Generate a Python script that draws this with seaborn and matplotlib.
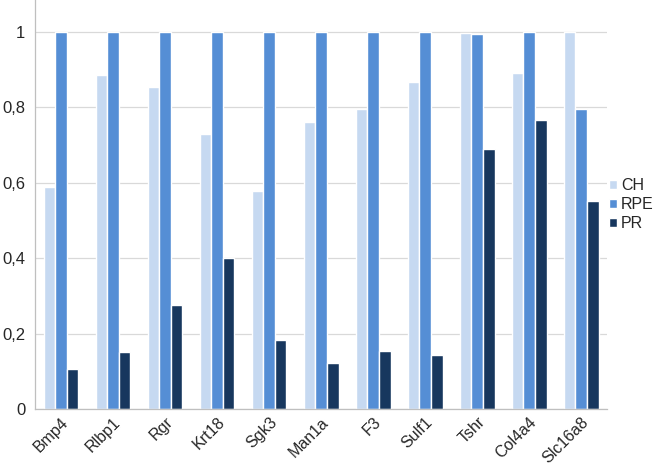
import seaborn as sns
import matplotlib.pyplot as plt
import pandas as pd
import numpy as np

genes = ["Bmp4", "Rlbp1", "Rgr", "Krt18", "Sgk3", "Man1a", "F3", "Sulf1", "Tshr", "Col4a4", "Slc16a8"]
ch = [0.59, 0.885, 0.855, 0.73, 0.578, 0.762, 0.796, 0.867, 0.998, 0.892, 1.0]
rpe = [1.0, 1.0, 1.0, 1.0, 1.0, 1.0, 1.0, 1.0, 0.995, 1.0, 0.796]
pr = [0.105, 0.15, 0.275, 0.40, 0.183, 0.123, 0.155, 0.143, 0.689, 0.767, 0.553]

df = pd.DataFrame({"gene": genes * 3,
                   "value": ch + rpe + pr,
                   "group": ["CH"] * 11 + ["RPE"] * 11 + ["PR"] * 11})

sns.set_style("white")
plt.rcParams['font.family'] = ['Liberation Sans', 'DejaVu Sans']

fig = plt.figure(figsize=(6.6, 4.68), dpi=100)
ax = fig.add_axes([0.053, 0.126, 0.867, 0.874])

sns.barplot(data=df, x="gene", y="value", hue="group",
            palette=["#c6d9f1", "#558ed5", "#17375e"],
            width=0.67, gap=0, saturation=1, ax=ax)

ax.set_ylim(0, 1.085)
ax.set_xlim(-0.5, 10.5)
ax.set_yticks([0, 0.2, 0.4, 0.6, 0.8, 1.0])
ax.set_yticklabels(["0", "0,2", "0,4", "0,6", "0,8", "1"], fontsize=12)
ax.yaxis.grid(True, color="#d9d9d9", linewidth=0.9)
ax.set_axisbelow(True)
ax.tick_params(axis="y", length=0, pad=7)
ax.set_xlabel("")
ax.set_ylabel("")

ax.set_xticks(range(len(genes)))
ax.set_xticklabels(genes, rotation=45, ha="right", rotation_mode="anchor", fontsize=11.5)
ax.tick_params(axis="x", which="major", length=0, pad=4)
ax.set_xticks(np.arange(-0.5, 11, 1), minor=True)
ax.tick_params(axis="x", which="minor", length=5, color="#bfbfbf", width=0.9)

for s in ["top", "right"]:
    ax.spines[s].set_visible(False)
for s in ["left", "bottom"]:
    ax.spines[s].set_color("#bfbfbf")
    ax.spines[s].set_linewidth(0.9)

leg = ax.legend(loc="center left", bbox_to_anchor=(1.0, 0.5), frameon=False,
                fontsize=11.5, handlelength=0.5, handleheight=0.5,
                handletextpad=0.25, labelspacing=0.25, borderaxespad=0.1,
                borderpad=0)

fig.savefig("out.png", dpi=100)
